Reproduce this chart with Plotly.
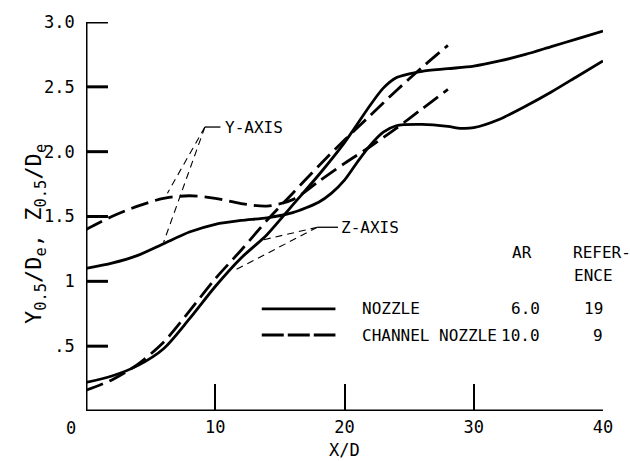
import plotly.graph_objects as go

# Half-width spreading of nozzle jets: Y- and Z-axis half-width vs X/D
x_nozzle_y = [0, 2, 4, 6, 8, 10, 12, 14, 16, 18, 19, 20, 21, 22, 23, 24, 26, 28, 29, 30, 32, 34, 36, 38, 40]
y_nozzle_y = [1.10, 1.14, 1.20, 1.29, 1.38, 1.44, 1.47, 1.49, 1.53, 1.61, 1.68, 1.78, 1.92, 2.05, 2.15, 2.20,
              2.21, 2.195, 2.18, 2.185, 2.25, 2.35, 2.46, 2.58, 2.70]

x_nozzle_z = [0, 2, 4, 6, 8, 10, 12, 14, 16, 18, 20, 22, 23, 24, 25, 26, 28, 30, 32, 34, 36, 38, 40]
y_nozzle_z = [0.22, 0.27, 0.35, 0.48, 0.71, 0.96, 1.18, 1.36, 1.59, 1.82, 2.07, 2.36, 2.49, 2.57, 2.60,
              2.62, 2.64, 2.66, 2.70, 2.75, 2.81, 2.87, 2.93]

x_channel_y = [0, 2, 4, 6, 8, 10, 12, 14, 16, 18, 20, 22, 24, 26, 28]
y_channel_y = [1.40, 1.50, 1.58, 1.64, 1.66, 1.64, 1.60, 1.58, 1.63, 1.77, 1.91, 2.04, 2.18, 2.33, 2.48]

x_channel_z = [0, 2, 4, 6, 8, 10, 12, 14, 16, 18, 20, 22, 24, 26, 28]
y_channel_z = [0.16, 0.24, 0.36, 0.53, 0.77, 1.02, 1.24, 1.47, 1.68, 1.89, 2.09, 2.28, 2.47, 2.65, 2.82]

# Key table
config_names = ["NOZZLE", "CHANNEL NOZZLE"]
aspect_ratios = ["6.0", "10.0"]
references = ["19", "9"]

x_ticks = [0, 10, 20, 30, 40]
x_tick_text = ["", "10", "20", "30", "40"]
y_ticks = [0, 0.5, 1, 1.5, 2, 2.5, 3]
y_tick_text = ["", ".5 ", "1 ", "1.5 ", "2.0 ", "2.5 ", "3.0 "]

X_RANGE = [0, 40]
Y_RANGE = [0, 3]
Y_TICK_LEN = 1.7  # inward y-tick length, in X/D units

FONT = "DejaVu Sans Mono"
INK = "black"
SOLID = dict(color=INK, width=2.8)
DASHED = dict(color=INK, width=2.8, dash="18px,7px")
LEADER = dict(color=INK, width=1.1, dash="7px,5px")
FRAME = dict(color=INK, width=3)

fig = go.Figure()

# Axis frame (left and bottom) with inward y ticks
frame_x = [X_RANGE[0], X_RANGE[0], X_RANGE[1]]
frame_y = [Y_RANGE[1], Y_RANGE[0], Y_RANGE[0]]
fig.add_trace(go.Scatter(x=frame_x, y=frame_y, mode="lines", line=FRAME, cliponaxis=False, hoverinfo="skip"))
tick_x, tick_y = [], []
for v in y_ticks[1:]:
    tick_x += [X_RANGE[0], X_RANGE[0] + Y_TICK_LEN, None]
    tick_y += [v, v, None]
fig.add_trace(go.Scatter(x=tick_x, y=tick_y, mode="lines", line=FRAME, cliponaxis=False, hoverinfo="skip"))

fig.add_trace(go.Scatter(x=x_nozzle_y, y=y_nozzle_y, mode="lines", line=dict(SOLID, shape="spline", smoothing=0.7)))
fig.add_trace(go.Scatter(x=x_nozzle_z, y=y_nozzle_z, mode="lines", line=dict(SOLID, shape="spline", smoothing=0.8)))
fig.add_trace(go.Scatter(x=x_channel_y, y=y_channel_y, mode="lines", line=dict(DASHED, shape="spline", smoothing=0.8)))
fig.add_trace(go.Scatter(x=x_channel_z, y=y_channel_z, mode="lines", line=dict(DASHED, shape="spline", smoothing=0.8)))

shapes = []
annotations = []

# Leader for the Y-axis curves
shapes.append(dict(type="line", x0=9.2, y0=2.19, x1=10.4, y1=2.19, line=dict(color=INK, width=1.3)))
shapes.append(dict(type="line", x0=9.2, y0=2.19, x1=6.3, y1=1.68, line=LEADER))
shapes.append(dict(type="line", x0=9.2, y0=2.19, x1=6.0, y1=1.30, line=LEADER))
annotations.append(dict(x=10.6, y=2.19, text="Y-AXIS", xanchor="left", yanchor="middle", showarrow=False))

# Leader for the Z-axis curves
shapes.append(dict(type="line", x0=17.9, y0=1.417, x1=19.5, y1=1.417, line=dict(color=INK, width=1.3)))
shapes.append(dict(type="line", x0=17.9, y0=1.417, x1=13.7, y1=1.32, line=LEADER))
shapes.append(dict(type="line", x0=17.9, y0=1.417, x1=11.4, y1=1.08, line=LEADER))
annotations.append(dict(x=19.6, y=1.417, text="Z-AXIS", xanchor="left", yanchor="middle", showarrow=False))

# Key: column headings
annotations.append(dict(x=33.7, y=1.222, text="AR", xanchor="center", yanchor="middle", showarrow=False))
annotations.append(dict(x=37.5, y=1.222, text="REFER-", xanchor="left", yanchor="middle", showarrow=False))
annotations.append(dict(x=37.6, y=1.043, text="ENCE", xanchor="left", yanchor="middle", showarrow=False))

# Key: rows
row_y = [0.787, 0.586]
row_line = [dict(color=INK, width=2.8), dict(color=INK, width=2.8, dash="22px,4px")]
for name, ar, ref, ry, ln in zip(config_names, aspect_ratios, references, row_y, row_line):
    shapes.append(dict(type="line", x0=13.6, y0=ry, x1=19.3, y1=ry, line=ln))
    annotations.append(dict(x=21.2, y=ry, text=name, xanchor="left", yanchor="middle", showarrow=False))
    annotations.append(dict(x=35.3, y=ry, text=ar, xanchor="right", yanchor="middle", showarrow=False))
    annotations.append(dict(x=40, y=ry, text=ref, xanchor="right", yanchor="middle", xshift=2,
                            showarrow=False))

# Origin label and axis titles
annotations.append(dict(x=0, y=0, text="0", xanchor="center", yanchor="middle", xshift=-15, yshift=-17,
                        showarrow=False, font=dict(size=17)))
annotations.append(dict(x=20, y=-0.099, yref="paper", text="X/D", xanchor="center", yanchor="middle",
                        showarrow=False, font=dict(size=17)))
annotations.append(dict(x=-0.0986, y=0.455, xref="paper", yref="paper",
                        text="Y<sub>0.5</sub>/D<sub>e</sub>, Z<sub>0.5</sub>/D<sub>e</sub>",
                        textangle=-90, xanchor="center", yanchor="middle", showarrow=False,
                        font=dict(size=22)))

fig.update_layout(
    width=630, height=461,
    margin=dict(l=86, r=27, t=17, b=50),
    paper_bgcolor="white", plot_bgcolor="white",
    showlegend=False,
    font=dict(family=FONT, size=16, color=INK),
    shapes=shapes,
    annotations=annotations,
    xaxis=dict(range=X_RANGE, tickvals=x_ticks, ticktext=x_tick_text, ticks="inside", ticklen=27,
               tickwidth=2, tickcolor=INK, showline=False, showgrid=False,
               zeroline=False, tickfont=dict(size=17), ticklabelstandoff=4),
    yaxis=dict(range=Y_RANGE, tickvals=y_ticks, ticktext=y_tick_text, ticks="", showline=False,
               showgrid=False, zeroline=False, tickfont=dict(size=17)),
)

fig.write_html("out.html")
